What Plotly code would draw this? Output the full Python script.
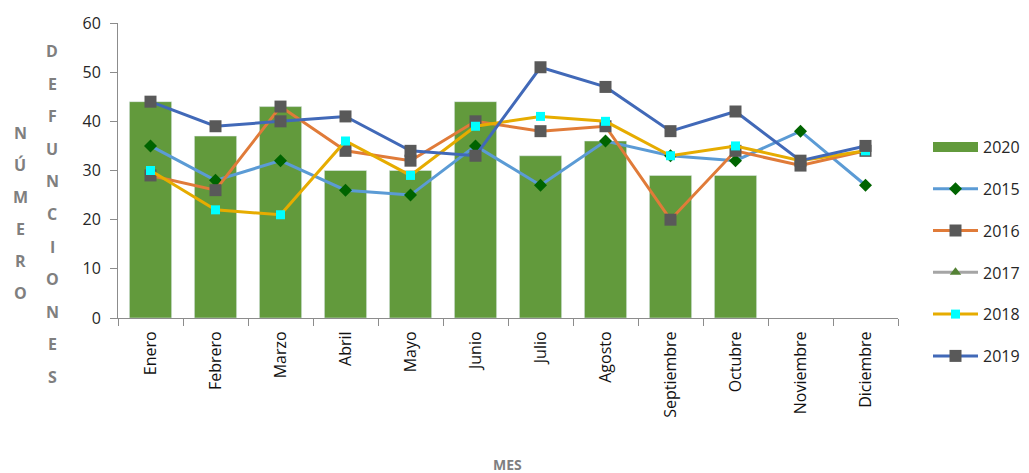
import plotly.graph_objects as go

meses = ["Enero", "Febrero", "Marzo", "Abril", "Mayo", "Junio", "Julio",
         "Agosto", "Septiembre", "Octubre", "Noviembre", "Diciembre"]

d2020 = [44, 37, 43, 30, 30, 44, 33, 36, 29, 29, None, None]
d2015 = [35, 28, 32, 26, 25, 35, 27, 36, 33, 32, 38, 27]
d2016 = [29, 26, 43, 34, 32, 40, 38, 39, 20, 34, 31, 34]
d2017 = [None] * 12
d2018 = [30, 22, 21, 36, 29, 39, 41, 40, 33, 35, 32, 34]
d2019 = [44, 39, 40, 41, 34, 33, 51, 47, 38, 42, 32, 35]

# page has an 8px body margin, so figure pixels = page pixels - 8
OFF = 8
L, R, T, B = 118 - OFF, 898 - OFF, 23 - OFF, 318 - OFF
# a bit wider than the window so the legend does not push the plot area
W, H = 1060, 473 - OFF

fig = go.Figure()

verde = "#629a3c"
fig.add_trace(go.Bar(x=meses, y=d2020, name="2020", width=0.65,
                     marker=dict(color=verde), showlegend=False))
# legend entry with the wide rectangle look
fig.add_trace(go.Scatter(x=[None], y=[None], name="2020", mode="lines",
                         line=dict(color=verde, width=14), legendgroup="a"))

def linea(y, name, lcolor, mcolor, symbol, size, grp):
    fig.add_trace(go.Scatter(
        x=meses, y=y, name=name, mode="lines+markers",
        line=dict(color=lcolor, width=3),
        marker=dict(color=mcolor, symbol=symbol, size=size),
        legendgroup=grp))

linea(d2015, "2015", "#5b9bd5", "#006400", "diamond", 10, "b")
linea(d2016, "2016", "#e07b39", "#595959", "square", 12, "c")
linea(d2017, "2017", "#a5a5a5", "#548235", "triangle-up", 10, "d")
linea(d2018, "2018", "#e6ac00", "#00ffff", "square", 9, "e")
linea(d2019, "2019", "#4169b8", "#595959", "square", 12, "f")

gris = "#7f7f7f"
anns = []

def px2paper(px, py):
    return (px - OFF - L) / (R - L), (B - (py - OFF)) / (B - T)

def col_letras(texto, px, y0, y1):
    n = len(texto)
    for i, ch in enumerate(texto):
        x, y = px2paper(px, y0 + (y1 - y0) * i / (n - 1))
        anns.append(dict(text="<b>%s</b>" % ch, xref="paper", yref="paper",
                         x=x, y=y, showarrow=False,
                         xanchor="center", yanchor="middle",
                         font=dict(size=16, color=gris, family="Open Sans")))

col_letras("NÚMERO", 20, 133, 293)
col_letras("DEFUNCIONES", 52, 51, 377)

mx, my = px2paper(507, 464)
anns.append(dict(text="<b>MES</b>", xref="paper", yref="paper",
                 x=mx, y=my, showarrow=False,
                 xanchor="center", yanchor="middle",
                 font=dict(size=14, color=gris, family="Open Sans")))

lx, ly = px2paper(928, 130)

fig.update_layout(
    width=W, height=H,
    margin=dict(l=L, r=W - R, t=T, b=H - B),
    plot_bgcolor="white", paper_bgcolor="white",
    font=dict(family="Open Sans", color="#262626"),
    showlegend=True,
    legend=dict(x=lx, y=ly, xanchor="left", yanchor="top",
                font=dict(size=16, color="#262626"),
                tracegroupgap=18, itemwidth=45),
    annotations=anns,
)

fig.update_xaxes(
    automargin=False,
    range=[-0.5, len(meses) - 0.5],
    showline=True, linecolor="#8c8c8c", linewidth=1,
    ticks="outside", tickson="boundaries", ticklen=7, tickcolor="#8c8c8c",
    ticklabelstandoff=6,
    tickangle=-90, tickfont=dict(size=16, color="#111111"),
    showgrid=False)

fig.update_yaxes(
    automargin=False,
    range=[0, 60], dtick=10,
    showline=True, linecolor="#8c8c8c", linewidth=1,
    ticks="outside", ticklen=7, tickcolor="#8c8c8c",
    ticklabelstandoff=6,
    tickfont=dict(size=16, color="#262626"),
    showgrid=False, zeroline=False)

# no scrollbars, so the whole 1029px window width is visible
fig.write_html("out.html", post_script=(
    "document.documentElement.style.overflow='hidden';"
    "document.body.style.overflow='hidden';"))
